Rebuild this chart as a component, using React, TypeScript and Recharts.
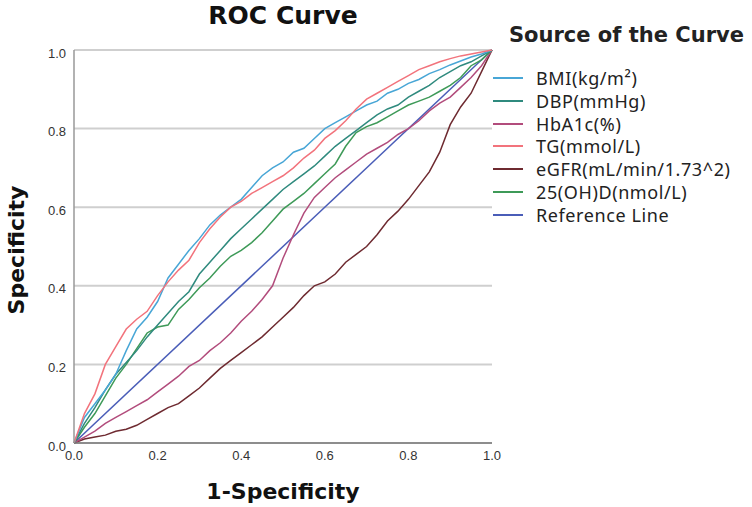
import { CartesianGrid, Line, LineChart, XAxis, YAxis } from "recharts"

// 1-Specificity positions shared by the curves
const fpr = [
    0, 0.025, 0.05, 0.075, 0.1, 0.125, 0.15, 0.175, 0.2, 0.225, 0.25, 0.275, 0.3, 0.325, 0.35, 0.375, 0.4, 0.425, 0.45,
    0.475, 0.5, 0.525, 0.55, 0.575, 0.6, 0.625, 0.65, 0.675, 0.7, 0.725, 0.75, 0.775, 0.8, 0.825, 0.85, 0.875, 0.9,
    0.925, 0.95, 0.975, 1,
]

const bmi = [
    0, 0.065, 0.1, 0.135, 0.175, 0.235, 0.29, 0.32, 0.36, 0.42, 0.455, 0.49, 0.52, 0.555, 0.58, 0.6, 0.62, 0.65, 0.68,
    0.7, 0.715, 0.74, 0.75, 0.775, 0.8, 0.815, 0.83, 0.845, 0.86, 0.87, 0.89, 0.9, 0.915, 0.925, 0.94, 0.95, 0.962,
    0.972, 0.982, 0.99, 1,
]
const dbp = [
    0, 0.05, 0.09, 0.135, 0.175, 0.205, 0.235, 0.27, 0.3, 0.33, 0.36, 0.385, 0.43, 0.46, 0.49, 0.52, 0.545, 0.57, 0.595,
    0.62, 0.645, 0.665, 0.685, 0.705, 0.73, 0.755, 0.775, 0.795, 0.815, 0.835, 0.85, 0.86, 0.88, 0.895, 0.91, 0.93,
    0.945, 0.96, 0.97, 0.985, 1,
]
const hba1c = [
    0, 0.015, 0.03, 0.05, 0.065, 0.08, 0.095, 0.11, 0.13, 0.15, 0.17, 0.195, 0.21, 0.235, 0.255, 0.28, 0.31, 0.335,
    0.365, 0.4, 0.47, 0.53, 0.585, 0.625, 0.65, 0.675, 0.695, 0.715, 0.735, 0.75, 0.765, 0.785, 0.8, 0.82, 0.845, 0.865,
    0.88, 0.905, 0.93, 0.96, 1,
]
const tg = [
    0, 0.075, 0.125, 0.2, 0.245, 0.29, 0.315, 0.335, 0.375, 0.41, 0.44, 0.465, 0.51, 0.545, 0.575, 0.6, 0.615, 0.635,
    0.65, 0.665, 0.68, 0.7, 0.725, 0.745, 0.775, 0.795, 0.82, 0.85, 0.875, 0.89, 0.905, 0.92, 0.935, 0.95, 0.96, 0.97,
    0.978, 0.985, 0.99, 0.995, 1,
]
const egfr = [
    0, 0.01, 0.015, 0.02, 0.03, 0.035, 0.045, 0.06, 0.075, 0.09, 0.1, 0.12, 0.14, 0.165, 0.19, 0.21, 0.23, 0.25, 0.27,
    0.295, 0.32, 0.345, 0.375, 0.4, 0.41, 0.43, 0.46, 0.48, 0.5, 0.53, 0.565, 0.59, 0.62, 0.655, 0.69, 0.74, 0.81,
    0.855, 0.89, 0.945, 1,
]
const vitD = [
    0, 0.04, 0.075, 0.12, 0.165, 0.2, 0.24, 0.28, 0.295, 0.3, 0.34, 0.365, 0.395, 0.42, 0.45, 0.475, 0.49, 0.51, 0.535,
    0.565, 0.595, 0.615, 0.635, 0.66, 0.685, 0.71, 0.755, 0.79, 0.805, 0.815, 0.83, 0.845, 0.86, 0.87, 0.88, 0.895,
    0.91, 0.93, 0.96, 0.975, 1,
]
const refX = [0, 1]
const refY = [0, 1]

const ticks = [0, 0.2, 0.4, 0.6, 0.8, 1]

const series = [
    { name: "BMI(kg/m²)", values: bmi, color: "#48a6d6" },
    { name: "DBP(mmHg)", values: dbp, color: "#2f8a7e" },
    { name: "HbA1c(%)", values: hba1c, color: "#b24c7c" },
    { name: "TG(mmol/L)", values: tg, color: "#f2737c" },
    { name: "eGFR(mL/min/1.73^2)", values: egfr, color: "#6e2a30" },
    { name: "25(OH)D(nmol/L)", values: vitD, color: "#3e9a58" },
]
const refColor = "#4a5db8"

const toPoints = (xs: number[], ys: number[]) => xs.map((x, i) => ({ x, y: ys[i] }))

const drawOrder = [4, 2, 5, 1, 0, 3]

const boldFont = "'DejaVu Sans', sans-serif"

function LegendBox() {
    const items = [...series.map((s) => ({ name: s.name, color: s.color })), { name: "Reference Line", color: refColor }]
    return (
        <div style={{ position: "absolute", left: 493, top: 0, width: 259, color: "#222" }}>
            <div
                style={{
                    position: "absolute",
                    left: 16,
                    top: 21,
                    whiteSpace: "nowrap",
                    fontFamily: boldFont,
                    fontWeight: "bold",
                    fontSize: 21,
                    lineHeight: "28px",
                }}
            >
                Source of the Curve
            </div>
            {items.map((it, i) => (
                <div
                    key={it.name}
                    style={{
                        position: "absolute",
                        left: 0,
                        top: 66 + i * 22.8,
                        display: "flex",
                        alignItems: "center",
                        height: 24,
                        whiteSpace: "nowrap",
                    }}
                >
                    <svg width={30} height={4} style={{ marginRight: 13 }}>
                        <line x1={0} y1={2} x2={30} y2={2} stroke={it.color} strokeWidth={2} />
                    </svg>
                    <span
                        style={{
                            fontFamily: "'Noto Sans', sans-serif",
                            fontSize: 18,
                            letterSpacing: 0.6,
                            lineHeight: "24px",
                        }}
                    >
                        {it.name}
                    </span>
                </div>
            ))}
        </div>
    )
}

export default function App() {
    return (
        <div style={{ position: "absolute", left: 0, top: 0, width: 752, height: 507, background: "#fff" }}>
            <LineChart width={752} height={507} margin={{ top: 50, right: 260, bottom: 0, left: 0 }}>
                <text
                    x={283}
                    y={24}
                    textAnchor="middle"
                    fontFamily={boldFont}
                    fontWeight="bold"
                    fontSize={25}
                    fill="#111"
                >
                    ROC Curve
                </text>
                <text
                    x={24}
                    y={250}
                    transform="rotate(-90 24 250)"
                    textAnchor="middle"
                    fontFamily={boldFont}
                    fontWeight="bold"
                    fontSize={22}
                    fill="#111"
                >
                    Specificity
                </text>
                <CartesianGrid vertical={false} stroke="#cfcfcf" strokeWidth={2} />
                <XAxis
                    type="number"
                    dataKey="x"
                    domain={[0, 1]}
                    ticks={ticks}
                    tickFormatter={(v: number) => v.toFixed(1)}
                    tickLine={false}
                    axisLine={{ stroke: "#777", strokeWidth: 1.5 }}
                    tick={{ fill: "#333", fontSize: 13, fontFamily: "'Liberation Sans', Arial, sans-serif" }}
                    height={64}
                    label={{
                        value: "1-Specificity",
                        position: "insideBottom",
                        offset: 8,
                        fill: "#111",
                        fontSize: 22,
                        fontWeight: "bold",
                        fontFamily: boldFont,
                    }}
                />
                <YAxis
                    type="number"
                    dataKey="y"
                    domain={[0, 1]}
                    ticks={ticks}
                    tickFormatter={(v: number) => v.toFixed(1)}
                    tickLine={false}
                    axisLine={{ stroke: "#999", strokeWidth: 1.5 }}
                    tick={{ fill: "#333", fontSize: 13, fontFamily: "'Liberation Sans', Arial, sans-serif", dy: 3 }}
                    width={74}
                />
                <Line
                    data={toPoints(refX, refY)}
                    dataKey="y"
                    name="Reference Line"
                    stroke={refColor}
                    strokeWidth={1.5}
                    dot={false}
                    type="linear"
                    isAnimationActive={false}
                />
                {drawOrder.map((i) => (
                    <Line
                        key={series[i].name}
                        data={toPoints(fpr, series[i].values)}
                        dataKey="y"
                        name={series[i].name}
                        stroke={series[i].color}
                        strokeWidth={1.5}
                        dot={false}
                        type="linear"
                        isAnimationActive={false}
                    />
                ))}
            </LineChart>
            <LegendBox />
        </div>
    )
}
